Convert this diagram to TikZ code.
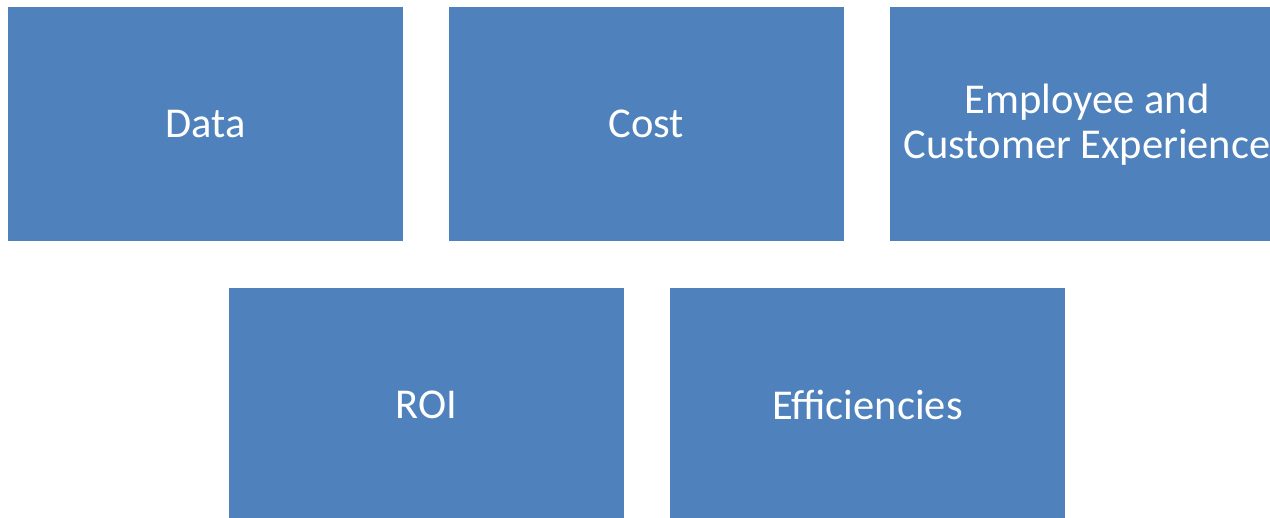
\documentclass[tikz,border=0pt]{standalone}
\usepackage{fontspec}
\setmainfont{Carlito}
\usetikzlibrary{positioning,calc}
\definecolor{tileblue}{HTML}{4F81BD}
\tikzset{
  tile/.style={fill=tileblue, draw=none, text=white, inner sep=0pt,
    minimum width=395pt, minimum height=234pt, align=center,
    font=\fontsize{42.5}{45}\selectfont},
}

\begin{document}
\begin{tikzpicture}
\useasboundingbox (0,0) rectangle (1270pt,-518pt);
\clip (0,0) rectangle (1270pt,-518pt);
\node[tile, anchor=north west] at (8pt,-7pt) (data) {Data};
\node[tile, right=45.3pt of data] (cost) {Cost};
\node[tile, right=45.3pt of cost] (exp) {Employee and\\Customer Experience};
\node[tile, anchor=north west] at ($(data.south west)+(221pt,-46pt)$) (roi) {ROI};
\node[tile, right=45.3pt of roi] (eff) {Efficiencies};
\end{tikzpicture}
\end{document}
